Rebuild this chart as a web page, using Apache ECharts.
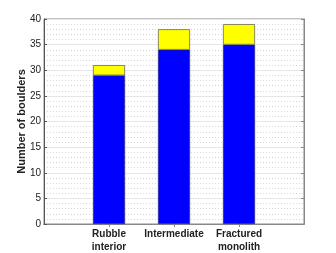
<!DOCTYPE html>
<html><head><meta charset="utf-8">
<script src="https://cdn.jsdelivr.net/npm/echarts@6/dist/echarts.min.js"></script>
<style>html,body{margin:0;padding:0;background:#fff}#c{width:336px;height:253px}</style>
</head><body><div id="c"></div>
<script>
const categories = ["Rubble\ninterior", "Intermediate", "Fractured\nmonolith"];
const blueValues = [29, 34, 35];
const yellowValues = [2, 4, 4];
const yTicks = [0, 5, 10, 15, 20, 25, 30, 35, 40];

// pad with empty slots so the axis spans 0..4 like the original
const axisCats = [''].concat(categories, ['']);
const pad = arr => [null].concat(arr, [null]);
const font = "Liberation Sans";
const chart = echarts.init(document.getElementById('c'));
chart.setOption({
  animation: false,
  backgroundColor: '#fff',
  grid: {left: 44, right: 32, top: 19, bottom: 29, outerBoundsMode: 'none', containLabel: false,
    show: true, borderColor: '#888', borderWidth: 1, backgroundColor: 'transparent'},
  xAxis: [{
    type: 'category', data: axisCats, boundaryGap: false, position: 'bottom',
    axisLine: {lineStyle: {color: '#555', width: 1}},
    axisTick: {inside: true, length: 3, lineStyle: {color: '#555'}, interval: (i) => i > 0 && i < axisCats.length - 1},
    axisLabel: {interval: 0, color: '#222', fontFamily: font, fontSize: 10, fontWeight: 'bold', lineHeight: 13.5, margin: 3},
    splitLine: {show: false}
  }, {
    type: 'category', data: axisCats, boundaryGap: false, position: 'top',
    axisLine: {show: true, lineStyle: {color: '#888', width: 1}},
    axisTick: {show: true, inside: true, length: 3, lineStyle: {color: '#888'}, interval: (i) => i > 0 && i < axisCats.length - 1},
    axisLabel: {show: false}, splitLine: {show: false}
  }],
  yAxis: [{
    type: 'value', min: 0, max: 40, interval: 5, position: 'left',
    name: 'Number of boulders', nameLocation: 'middle', nameGap: 17, nameMoveOverlap: false,
    nameTextStyle: {fontFamily: font, fontSize: 11, fontWeight: 'bold', color: '#222'},
    axisLine: {show: true, lineStyle: {color: '#555', width: 1}},
    axisTick: {show: true, inside: true, length: 3, lineStyle: {color: '#555'}},
    axisLabel: {color: '#222', fontFamily: font, fontSize: 10, margin: 3},
    splitLine: {show: true, lineStyle: {color: '#e6e6e6', width: 1}},
    minorTick: {show: false, splitNumber: 5},
    minorSplitLine: {show: true, lineStyle: {color: '#d8d8d8', type: [1, 2], width: 1}}
  }, {
    type: 'value', min: 0, max: 40, interval: 5, position: 'right',
    axisLine: {show: true, lineStyle: {color: '#888', width: 1}},
    axisTick: {show: true, inside: true, length: 3, lineStyle: {color: '#888'}},
    axisLabel: {show: false}, splitLine: {show: false}
  }],
  series: [{
    type: 'bar', stack: 's', barWidth: 32,
    data: pad(blueValues),
    itemStyle: {color: '#0000ff', borderColor: '#333', borderWidth: 0.5}
  }, {
    type: 'bar', stack: 's', barWidth: 32,
    data: pad(yellowValues),
    itemStyle: {color: '#ffff00', borderColor: '#555', borderWidth: 0.7}
  }]
});
</script></body></html>
